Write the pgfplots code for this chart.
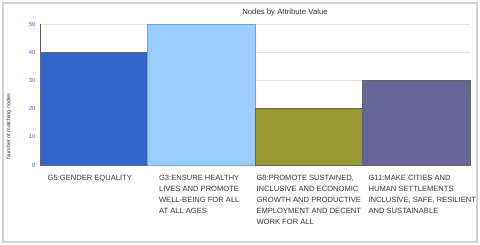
\documentclass[border=0pt]{standalone}
\usepackage{pgfplots}
\pgfplotsset{compat=1.18}
\usepackage{fontspec}
\setmainfont{Liberation Sans}
\definecolor{barA}{HTML}{3366CC}
\definecolor{barB}{HTML}{99CCFF}
\definecolor{barC}{HTML}{999933}
\definecolor{barD}{HTML}{666699}
\definecolor{tickblue}{HTML}{4466DD}
\definecolor{txt}{HTML}{333333}
\begin{document}
\begin{tikzpicture}
\useasboundingbox (-40bp,-80bp) rectangle (440bp,165bp);
\draw[line width=2bp, black!18] (-37bp,-77bp) rectangle (437bp,162bp);
\begin{axis}[
  at={(0,0)}, anchor=south west,
  scale only axis, width=430bp, height=141bp,
  xmin=0, xmax=4, ymin=0, ymax=50,
  axis x line*=bottom, axis y line*=left,
  axis line style={black!65},
  ytick={0,10,20,30,40,50},
  ymajorgrids, grid style={black!10},
  major tick length=0pt,
  yticklabel style={font=\fontsize{6}{7}\selectfont, text=tickblue, xshift=-1bp},
  /pgf/number format/assume math mode=true,
  xtick={0.5,1.5,2.5,3.5},
  xticklabels={
    {G5:GENDER EQUALITY},
    {G3:ENSURE HEALTHY\\LIVES AND PROMOTE\\WELL-BEING FOR ALL\\AT ALL AGES},
    {G8:PROMOTE SUSTAINED,\\INCLUSIVE AND ECONOMIC\\GROWTH AND PRODUCTIVE\\EMPLOYMENT AND DECENT\\WORK FOR ALL},
    {G11:MAKE CITIES AND\\HUMAN SETTLEMENTS\\INCLUSIVE, SAFE, RESILIENT\\AND SUSTAINABLE}},
  xticklabel style={align=left, anchor=north, font=\fontsize{7.6}{11}\selectfont, text=txt, yshift=-7bp,
    xshift={(\ticknum==3)*6bp-(\ticknum==0)*4bp-(\ticknum==1)*2bp}},
  clip=false,
]
\addplot[ybar, bar width=1, bar shift=0pt, fill=barA, draw=black!60] coordinates {(0.5,40)};
\addplot[ybar, bar width=1, bar shift=0pt, fill=barB, draw=barB!80!black] coordinates {(1.5,50)};
\addplot[ybar, bar width=1, bar shift=0pt, fill=barC, draw=black!60] coordinates {(2.5,20)};
\addplot[ybar, bar width=1, bar shift=0pt, fill=barD, draw=black!60] coordinates {(3.5,30)};
\end{axis}
\node[font=\fontsize{7.8}{9}\selectfont, text=txt] at (245bp,153bp) {Nodes by Attribute Value};
\node[font=\fontsize{5.5}{6}\selectfont, text=txt, rotate=90, anchor=west] at (-31bp,2bp) {Number of matching nodes};
\end{tikzpicture}
\end{document}
